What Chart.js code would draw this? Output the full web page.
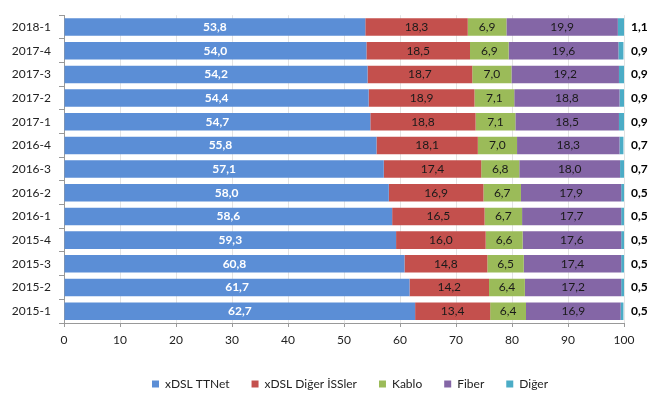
<!DOCTYPE html>
<html>
<head>
<meta charset="utf-8">
<script src="https://cdn.jsdelivr.net/npm/chart.js@4"></script>
<style>
  html, body { margin: 0; padding: 0; background: #fff; }
  #wrap { width: 660px; height: 401px; position: relative; }
</style>
</head>
<body>
<div id="wrap"><canvas id="chart"></canvas></div>
<script>
// donemler, ustten alta
const categories = ['2018-1', '2017-4', '2017-3', '2017-2', '2017-1', '2016-4', '2016-3',
                    '2016-2', '2016-1', '2015-4', '2015-3', '2015-2', '2015-1'];
const xdslTTNet = [53.8, 54.0, 54.2, 54.4, 54.7, 55.8, 57.1, 58.0, 58.6, 59.3, 60.8, 61.7, 62.7];
const xdslDiger = [18.3, 18.5, 18.7, 18.9, 18.8, 18.1, 17.4, 16.9, 16.5, 16.0, 14.8, 14.2, 13.4];
const kablo = [6.9, 6.9, 7.0, 7.1, 7.1, 7.0, 6.8, 6.7, 6.7, 6.6, 6.5, 6.4, 6.4];
const fiber = [19.9, 19.6, 19.2, 18.8, 18.5, 18.3, 18.0, 17.9, 17.7, 17.6, 17.4, 17.2, 16.9];
const diger = [1.1, 0.9, 0.9, 0.9, 0.9, 0.7, 0.7, 0.5, 0.5, 0.5, 0.5, 0.5, 0.5];
const xTicks = [0, 10, 20, 30, 40, 50, 60, 70, 80, 90, 100];

const FONT = 'Lato, "Liberation Sans", sans-serif';
const PAD_BOTTOM = 1;
const fmt = v => v.toFixed(1).replace('.', ',');

// deger etiketleri (datalabels yok, elle ciziyoruz)
const valueLabels = {
    id: 'valueLabels',
    afterDatasetsDraw(chart) {
        const ctx = chart.ctx;
        const last = chart.data.datasets.length - 1;
        ctx.save();
        ctx.textBaseline = 'middle';
        chart.data.datasets.forEach((ds, i) => {
            const meta = chart.getDatasetMeta(i);
            meta.data.forEach((bar, j) => {
                const v = ds.data[j];
                if (i === last) {
                    ctx.font = 'bold 12px ' + FONT;
                    ctx.fillStyle = '#000';
                    ctx.textAlign = 'left';
                    ctx.fillText(fmt(v), chart.chartArea.right + 7, bar.y);
                } else {
                    ctx.font = (i === 0 ? 'bold ' : '') + '12px ' + FONT;
                    ctx.fillStyle = i === 0 ? '#fff' : '#1a1a1a';
                    ctx.textAlign = 'center';
                    ctx.fillText(fmt(v), (bar.x + bar.base) / 2, bar.y);
                }
            });
        });
        ctx.restore();
    }
};

// lejant grafik alaninin ortasina gelsin
const shiftLegend = {
    id: 'shiftLegend',
    afterLayout(chart) {
        if (chart.legend) {
            chart.legend.left += 38;
            chart.legend.right += 38;
        }
    }
};

const ctx = document.getElementById('chart').getContext('2d');
new Chart(ctx, {
    type: 'bar',
    data: {
        labels: categories,
        datasets: [
            { label: 'xDSL TTNet', data: xdslTTNet, backgroundColor: '#5B8ED6' },
            { label: 'xDSL Diğer İSSler', data: xdslDiger, backgroundColor: '#C4504D' },
            { label: 'Kablo', data: kablo, backgroundColor: '#9BBB59' },
            { label: 'Fiber', data: fiber, backgroundColor: '#8466A6' },
            { label: 'Diğer', data: diger, backgroundColor: '#4BACC6' }
        ]
    },
    options: {
        indexAxis: 'y',
        responsive: true,
        maintainAspectRatio: false,
        animation: false,
        datasets: { bar: { barPercentage: 0.74, categoryPercentage: 1 } },
        layout: { padding: { top: 6, right: 36, bottom: PAD_BOTTOM, left: 0 } },
        plugins: {
            legend: {
                position: 'bottom',
                labels: {
                    boxWidth: 7,
                    boxHeight: 7,
                    padding: 22,
                    color: '#222',
                    font: { family: FONT, size: 12 }
                }
            },
            tooltip: { enabled: false }
        },
        scales: {
            x: {
                stacked: true,
                min: 0,
                max: 100,
                afterBuildTicks: s => { s.ticks = xTicks.map(v => ({ value: v })); },
                afterFit: s => { s.height = s.chart.height - s.chart.legend.height - PAD_BOTTOM - 323; },
                grid: { color: '#e3e3e3', tickLength: 4, tickColor: '#999' },
                border: { color: '#999' },
                ticks: { color: '#222', padding: 6, font: { family: FONT, size: 12 } }
            },
            y: {
                stacked: true,
                afterFit: s => { s.width = 64; },
                grid: { drawOnChartArea: false, tickLength: 5, tickColor: '#999' },
                border: { color: '#999' },
                ticks: { color: '#222', padding: 8, font: { family: FONT, size: 12 } }
            }
        }
    },
    plugins: [valueLabels, shiftLegend]
});
</script>
</body>
</html>
